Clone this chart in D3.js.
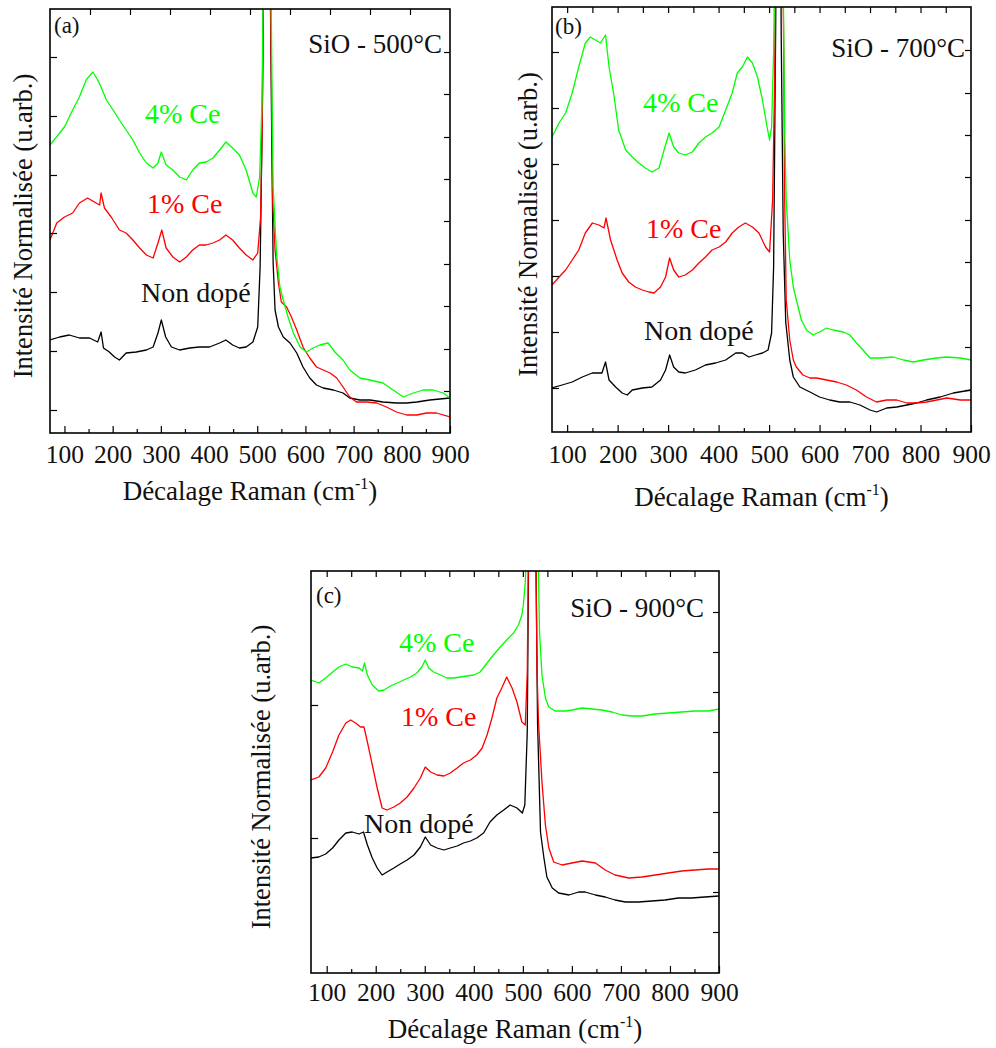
<!DOCTYPE html>
<html><head><meta charset="utf-8">
<script src="https://cdn.jsdelivr.net/npm/d3@7"></script>
<style>
html,body{margin:0;padding:0;background:#fff;}
svg text{font-family:"Liberation Serif","Times New Roman",serif;}
</style></head>
<body>
<svg id="chart" width="996" height="1048"></svg>
<script>
// ---------- DATA (Raman shift cm^-1, normalised intensity in arbitrary units) ----------
const xTickValues = [100,200,300,400,500,600,700,800,900];
const xMinorValues = [150,250,350,450,550,650,750,850];
const seriesNames = ["Non dopé","1% Ce","4% Ce"];
const panelLetters = ["(a)","(b)","(c)"];
const panelTitles = ["SiO - 500°C","SiO - 700°C","SiO - 900°C"];

const a_black = [[70,93],[90,96],[110,98],[131,95],[152,95],[169,91],[176,101],[181,85],[193,81],[204,76],[214,73],[228,80],[249,81],[270,83],[284,86],[294,100],[301,113],[310,96],[322,86],[339,83],[360,85],[380,86],[401,86],[422,90],[435,93],[449,88],[463,85],[477,86],[491,91],[501,106],[506,166],[510,300],[514,500],[520,850],[526,500],[530,300],[533,170],[537,123],[544,106],[554,96],[568,90],[582,80],[595,66],[609,55],[623,48],[637,45],[658,43],[678,40],[692,35],[713,33],[734,33],[761,31],[789,30],[810,30],[831,31],[858,33],[900,35]];
const a_red = [[70,193],[84,210],[100,216],[117,220],[131,230],[148,235],[162,231],[173,228],[176,240],[183,225],[197,216],[214,203],[228,200],[242,193],[256,185],[270,178],[284,175],[294,190],[302,203],[311,185],[325,176],[339,171],[353,176],[366,183],[380,188],[394,188],[408,190],[422,193],[435,198],[449,193],[463,185],[477,178],[491,173],[501,180],[507,216],[511,330],[514,500],[520,850],[526,500],[530,330],[532,233],[537,183],[544,150],[550,131],[561,126],[571,116],[582,103],[595,86],[609,75],[623,66],[637,63],[651,60],[665,55],[678,46],[692,36],[706,31],[727,31],[748,30],[768,26],[789,21],[810,18],[831,18],[851,20],[872,20],[900,16]];
const a_green = [[70,288],[90,300],[100,306],[117,323],[131,336],[145,353],[159,361],[169,353],[176,346],[187,333],[201,323],[214,313],[228,303],[242,293],[256,280],[270,270],[284,265],[294,270],[301,281],[311,268],[325,263],[339,256],[353,253],[366,263],[380,270],[394,271],[408,275],[422,283],[435,291],[449,285],[463,278],[477,263],[491,240],[498,236],[505,256],[510,333],[513,480],[516,700],[520,850],[524,700],[528,480],[531,330],[533,246],[540,180],[547,146],[554,133],[564,116],[575,100],[589,86],[602,81],[616,85],[630,88],[647,90],[661,81],[678,73],[692,63],[713,55],[734,53],[761,50],[782,43],[803,36],[824,40],[844,43],[865,43],[886,40],[900,35]];

const b_black = [[70,44],[90,47],[110,50],[130,55],[150,59],[169,59],[176,70],[183,52],[196,45],[209,39],[219,37],[229,42],[249,44],[268,45],[285,52],[295,62],[303,77],[311,65],[321,60],[334,59],[354,62],[374,67],[394,69],[414,72],[434,79],[447,79],[460,75],[473,77],[487,79],[498,82],[505,99],[509,165],[513,400],[519,850],[524,400],[528,200],[533,110],[541,72],[548,55],[561,45],[581,40],[600,35],[620,32],[640,30],[660,30],[680,27],[700,22],[713,20],[733,24],[753,25],[773,27],[792,29],[812,32],[839,35],[865,39],[900,42]];
const b_red = [[70,147],[84,155],[97,162],[110,172],[123,182],[136,199],[150,209],[163,207],[173,204],[177,214],[186,192],[199,172],[209,159],[222,150],[235,145],[249,142],[262,140],[272,139],[285,145],[295,155],[303,174],[311,162],[321,155],[334,157],[348,162],[361,169],[374,175],[387,182],[401,185],[414,190],[427,199],[440,205],[453,209],[467,205],[480,199],[493,185],[501,180],[507,232],[511,350],[515,600],[520,850],[525,600],[529,380],[531,230],[534,132],[541,92],[548,72],[554,65],[567,57],[581,54],[594,54],[614,52],[634,50],[653,47],[673,42],[693,35],[713,30],[733,32],[753,32],[773,29],[792,29],[812,30],[832,32],[852,34],[879,32],[900,32]];
const b_green = [[70,295],[84,309],[97,319],[110,339],[123,365],[136,389],[146,395],[156,392],[166,389],[176,397],[183,365],[192,339],[202,302],[216,282],[229,275],[242,269],[255,264],[268,260],[282,264],[292,282],[302,299],[311,285],[321,279],[334,277],[348,280],[361,289],[374,295],[387,299],[401,305],[414,322],[427,339],[437,359],[447,365],[457,375],[467,369],[477,355],[487,332],[496,305],[501,292],[505,305],[509,380],[512,500],[516,700],[520,850],[524,700],[528,450],[531,300],[534,232],[541,172],[548,145],[554,132],[564,112],[574,102],[587,97],[600,100],[614,104],[627,102],[647,100],[660,97],[673,89],[686,82],[700,74],[720,74],[746,75],[766,72],[786,70],[806,72],[832,74],[852,75],[879,74],[900,72]];

const c_black = [[68,115],[84,116],[98,119],[112,125],[125,133],[139,140],[152,141],[166,139],[175,141],[183,128],[193,115],[203,105],[213,98],[223,101],[237,105],[250,109],[264,113],[278,118],[291,126],[301,136],[312,128],[325,125],[339,123],[352,125],[366,127],[379,130],[393,132],[406,135],[420,140],[433,151],[447,158],[461,163],[474,168],[488,165],[499,160],[504,168],[509,241],[513,500],[519,850],[525,500],[530,250],[536,141],[543,115],[549,96],[560,85],[573,80],[594,78],[614,81],[627,81],[648,78],[668,76],[688,73],[709,71],[736,71],[763,72],[790,73],[817,75],[844,75],[871,76],[900,77]];
const c_red = [[68,193],[84,196],[98,205],[112,221],[125,238],[139,250],[149,253],[159,250],[169,246],[176,246],[183,231],[193,208],[203,185],[213,165],[223,163],[237,166],[250,170],[264,176],[278,185],[291,195],[301,206],[312,201],[325,198],[339,197],[352,200],[366,205],[379,210],[393,213],[406,218],[417,225],[427,238],[437,255],[447,275],[457,285],[467,296],[478,285],[488,271],[498,251],[505,248],[509,300],[513,500],[519,850],[525,500],[529,300],[532,250],[539,191],[546,148],[553,125],[563,111],[580,108],[600,110],[621,112],[648,110],[668,103],[688,98],[716,95],[743,96],[770,98],[797,100],[824,102],[851,103],[878,104],[900,104]];
const c_green = [[68,293],[84,290],[98,295],[112,301],[125,306],[139,309],[152,306],[166,305],[173,302],[177,310],[183,298],[193,288],[206,282],[217,283],[230,287],[244,290],[257,293],[271,296],[284,300],[294,306],[301,313],[308,305],[318,301],[332,298],[345,295],[359,295],[373,296],[386,297],[400,298],[413,301],[427,310],[440,318],[454,326],[467,333],[481,340],[491,348],[498,358],[501,368],[505,391],[509,450],[514,700],[520,850],[526,700],[530,450],[534,341],[539,298],[546,275],[553,266],[566,262],[587,262],[600,263],[621,265],[641,264],[661,263],[682,261],[702,258],[722,257],[743,257],[770,259],[797,260],[824,261],[851,262],[878,262],[900,264]];

// y-axis tick values (left and right axes carry different tick sets)
const a_leftTicks = [23,82,141,200,258,317,376];
const a_rightTicks = [42,84,127,169,212,254,296,339,381];
const b_leftTicks = [44,100,156,212,268,324,380];
const b_rightTicks = [42,85,127,170,212,255,297,339,382];
const c_leftTicks = [135,268];
const c_rightTicks = [41,81,121,161,201,241,281,321,361];

// ---------- LAYOUT ----------
const colors = ["#000000","#ff0000","#00ff00"];
const panels = [
  {id:"a", left:50, right:450, top:9, bottom:433, xmin:70, ymax:424,
   data:[a_black,a_red,a_green], lt:a_leftTicks, rt:a_rightTicks, topMode:"div10",
   tickY:463, titleY:500, yTitleX:32,
   labels:[[141,302],[147,213],[145,123]], letter:[54,33], title:[442,53]},
  {id:"b", left:552, right:971, top:7, bottom:432, xmin:70, ymax:425,
   data:[b_black,b_red,b_green], lt:b_leftTicks, rt:b_rightTicks, topMode:"x",
   tickY:463, titleY:506, yTitleX:537,
   labels:[[644,340],[646,238],[643,112]], letter:[555,34], title:[965,57]},
  {id:"c", left:311, right:719, top:571, bottom:973, xmin:68, ymax:402,
   data:[c_black,c_red,c_green], lt:c_leftTicks, rt:c_rightTicks, topMode:"x",
   tickY:1001, titleY:1038, yTitleX:270,
   labels:[[364,833],[401,726],[399,652]], letter:[316,603], title:[704,617]}
];

const svg = d3.select("#chart");

panels.forEach((p,pi)=>{
  const x = d3.scaleLinear().domain([p.xmin,900]).range([p.left,p.right]);
  const y = d3.scaleLinear().domain([0,p.ymax]).range([p.bottom,p.top]);
  const g = svg.append("g");

  g.append("clipPath").attr("id","clip-"+p.id)
    .append("rect").attr("x",p.left).attr("y",p.top)
    .attr("width",p.right-p.left).attr("height",p.bottom-p.top);

  const line = d3.line().x(d=>x(d[0])).y(d=>y(d[1]));
  const lines = g.append("g").attr("clip-path","url(#clip-"+p.id+")");
  p.data.forEach((s,i)=>{
    lines.append("path").datum(s).attr("d",line)
      .attr("fill","none").attr("stroke",colors[i]).attr("stroke-width",1.3)
      .attr("stroke-linejoin","round");
  });

  // bottom axis: major ticks with labels, minor ticks
  const bottomAxis = d3.axisBottom(x).tickValues(xTickValues).tickSizeInner(-7).tickSizeOuter(0).tickPadding(0).tickFormat(d3.format("d"));
  const bx = g.append("g").attr("transform",`translate(0,${p.bottom})`).call(bottomAxis);
  bx.select(".domain").remove();
  bx.selectAll(".tick line").attr("stroke","#000").attr("stroke-width",1.2);
  bx.selectAll(".tick text").attr("y",p.tickY-p.bottom).attr("dy",0)
    .attr("font-size",25.5).attr("fill","#111").attr("font-family","Liberation Serif");
  const minorAxis = d3.axisBottom(x).tickValues(xMinorValues).tickSizeInner(-4).tickSizeOuter(0).tickFormat("");
  const mx = g.append("g").attr("transform",`translate(0,${p.bottom})`).call(minorAxis);
  mx.select(".domain").remove();
  mx.selectAll(".tick line").attr("stroke","#000").attr("stroke-width",1.2);

  // top axis
  let topAxis;
  if (p.topMode==="div10") {
    const xt = d3.scaleLinear().domain([0,10]).range([p.left,p.right]);
    topAxis = d3.axisTop(xt).tickValues(d3.range(1,10)).tickSizeInner(-6).tickSizeOuter(0).tickFormat("");
  } else {
    topAxis = d3.axisTop(x).tickValues(xTickValues.concat(xMinorValues).filter(v=>v<900)).tickSizeInner(-6).tickSizeOuter(0).tickFormat("");
  }
  const tx = g.append("g").attr("transform",`translate(0,${p.top})`).call(topAxis);
  tx.select(".domain").remove();
  tx.selectAll(".tick line").attr("stroke","#000").attr("stroke-width",1.2);

  // left / right axes (inward ticks, no labels)
  const la = g.append("g").attr("transform",`translate(${p.left},0)`)
    .call(d3.axisLeft(y).tickValues(p.lt).tickSizeInner(-7).tickSizeOuter(0).tickFormat(""));
  la.select(".domain").remove();
  la.selectAll(".tick line").attr("stroke","#000").attr("stroke-width",1.2);
  const ra = g.append("g").attr("transform",`translate(${p.right},0)`)
    .call(d3.axisRight(y).tickValues(p.rt).tickSizeInner(-6).tickSizeOuter(0).tickFormat(""));
  ra.select(".domain").remove();
  ra.selectAll(".tick line").attr("stroke","#000").attr("stroke-width",1.2);

  // frame
  g.append("rect").attr("x",p.left).attr("y",p.top)
    .attr("width",p.right-p.left).attr("height",p.bottom-p.top)
    .attr("fill","none").attr("stroke","#000").attr("stroke-width",1.6);

  // x title with superscript
  const xt = g.append("text").attr("x",(p.left+p.right)/2).attr("y",p.titleY)
    .attr("text-anchor","middle").attr("font-size",27).attr("fill","#111");
  xt.append("tspan").text("Décalage Raman (cm");
  xt.append("tspan").attr("dy",-11).attr("font-size",16).text("-1");
  xt.append("tspan").attr("dy",11).text(")");

  // y title
  g.append("text")
    .attr("transform",`translate(${p.yTitleX},${(p.top+p.bottom)/2 + 5}) rotate(-90)`)
    .attr("text-anchor","middle").attr("font-size",26.5).attr("fill","#111")
    .text("Intensité Normalisée (u.arb.)");

  // panel letter and title
  g.append("text").attr("x",p.letter[0]).attr("y",p.letter[1])
    .attr("font-size",23).attr("fill","#111").text(panelLetters[pi]);
  g.append("text").attr("x",p.title[0]).attr("y",p.title[1]).attr("text-anchor","end")
    .attr("font-size",27).attr("fill","#111").text(panelTitles[pi]);

  // series labels
  p.labels.forEach((pos,i)=>{
    g.append("text").attr("x",pos[0]).attr("y",pos[1])
      .attr("font-size",28).attr("fill",colors[i]==="#000000"?"#111":colors[i])
      .text(seriesNames[i]);
  });
});
</script>
</body></html>
